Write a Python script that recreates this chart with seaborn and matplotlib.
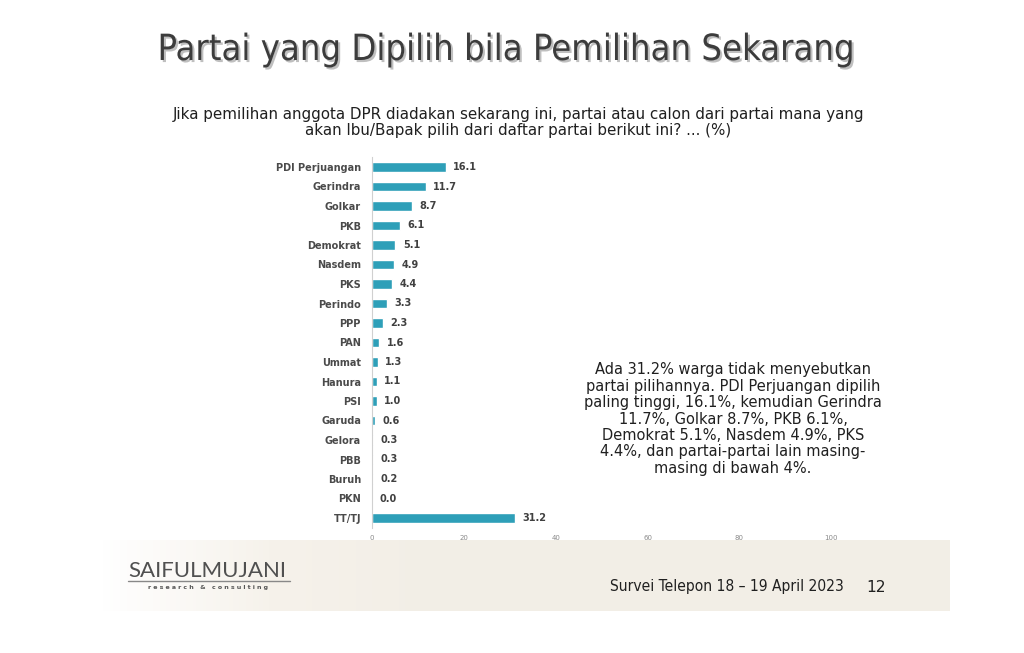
import numpy as np
import pandas as pd
import matplotlib
matplotlib.use("Agg")
import matplotlib.pyplot as plt
import matplotlib.patheffects as pe
from matplotlib.colors import LinearSegmentedColormap
import seaborn as sns

# Data
parties = ["PDI Perjuangan", "Gerindra", "Golkar", "PKB", "Demokrat", "Nasdem", "PKS",
           "Perindo", "PPP", "PAN", "Ummat", "Hanura", "PSI", "Garuda", "Gelora",
           "PBB", "Buruh", "PKN", "TT/TJ"]
values = [16.1, 11.7, 8.7, 6.1, 5.1, 4.9, 4.4, 3.3, 2.3, 1.6, 1.3, 1.1, 1.0, 0.6, 0.3,
          0.3, 0.2, 0.0, 31.2]
x_ticks = [0, 20, 40, 60, 80, 100]

df = pd.DataFrame({"Partai": parties, "Persen": values})

sns.set_style("white")
plt.rcParams['font.family'] = ['DejaVu Sans']

fig = plt.figure(figsize=(10.24, 6.53), dpi=100)
fig.patch.set_facecolor("white")

# light beige footer band, fading in from the left
band = fig.add_axes([100/1024, 1-611/653, 850/1024, 71/653], zorder=0)
grad = np.clip(np.linspace(0, 1, 256) * 2.5, 0, 1)[None, :]
cmap = LinearSegmentedColormap.from_list("beige", ["#ffffff", "#f6f2eb", "#f2eee6"])
band.imshow(grad, aspect="auto", cmap=cmap, extent=[0, 1, 0, 1])
band.axis("off")

ax = fig.add_axes([372/1024, 1-527.75/653, 551/1024, 370.5/653], zorder=2)
ax.patch.set_alpha(0)
sns.barplot(data=df, x="Persen", y="Partai", color="#2e9fb8", width=0.47,
            saturation=1, ax=ax)
ax.set_xlim(0, 120)
ax.set_xticks(x_ticks)
ax.set_xticklabels([str(t) for t in x_ticks], fontsize=5, color="#8a8a8a")
ax.tick_params(axis="x", length=0, pad=5)
ax.tick_params(axis="y", length=0, pad=8)
for lbl in ax.get_yticklabels():
    lbl.set_fontsize(7)
    lbl.set_fontweight("bold")
    lbl.set_color("#4a4a4a")
ax.set_xlabel("")
ax.set_ylabel("")
for s in ["top", "right", "bottom"]:
    ax.spines[s].set_visible(False)
ax.spines["left"].set_color("#d0d0d0")
ax.spines["left"].set_linewidth(0.8)

for i, v in enumerate(values):
    ax.text(v + 1.6, i, f"{v:.1f}", va="center", ha="left", fontsize=7,
            fontweight="bold", color="#404040")

# Title
fig.text(0.495, 1-50/653, "Partai yang Dipilih bila Pemilihan Sekarang", ha="center",
         va="center", fontsize=26, color="#3c3c3c", fontstretch="condensed",
         path_effects=[pe.withSimplePatchShadow(offset=(1.5, -1.5), shadow_rgbFace="#b0b0b0", alpha=0.8)])

fig.text(0.506, 1-114/653, "Jika pemilihan anggota DPR diadakan sekarang ini, partai atau calon dari partai mana yang",
         ha="center", va="center", fontsize=10.9, color="#202020")
fig.text(0.506, 1-131/653, "akan Ibu/Bapak pilih dari daftar partai berikut ini? ... (%)",
         ha="center", va="center", fontsize=10.9, color="#202020")

note = ("Ada 31.2% warga tidak menyebutkan\npartai pilihannya. PDI Perjuangan dipilih\n"
        "paling tinggi, 16.1%, kemudian Gerindra\n11.7%, Golkar 8.7%, PKB 6.1%,\n"
        "Demokrat 5.1%, Nasdem 4.9%, PKS\n4.4%, dan partai-partai lain masing-\nmasing di bawah 4%.")
fig.text(733/1024, 1-419/653, note, ha="center", va="center", fontsize=10.5,
         color="#202020", linespacing=1.12)

# footer
fig.text(128/1024, 1-571/653, "SAIFULMUJANI", ha="left", va="center", fontsize=16,
         color="#505050", family="Lato", fontweight="normal")
fig.add_artist(plt.Line2D([128/1024, 290/1024], [1-581/653, 1-581/653], color="#888888", lw=1.0))
fig.text(208/1024, 1-587/653, "r e s e a r c h   &   c o n s u l t i n g", ha="center", va="center",
         fontsize=4.5, color="#555555", fontweight="bold")
fig.text(610/1024, 1-587/653, "Survei Telepon 18 – 19 April 2023", ha="left", va="center",
         fontsize=11.2, color="#202020", fontstretch="condensed")
fig.text(866/1024, 1-587/653, "12", ha="left", va="center", fontsize=11.2, color="#202020")

plt.savefig("out.png", dpi=100)
